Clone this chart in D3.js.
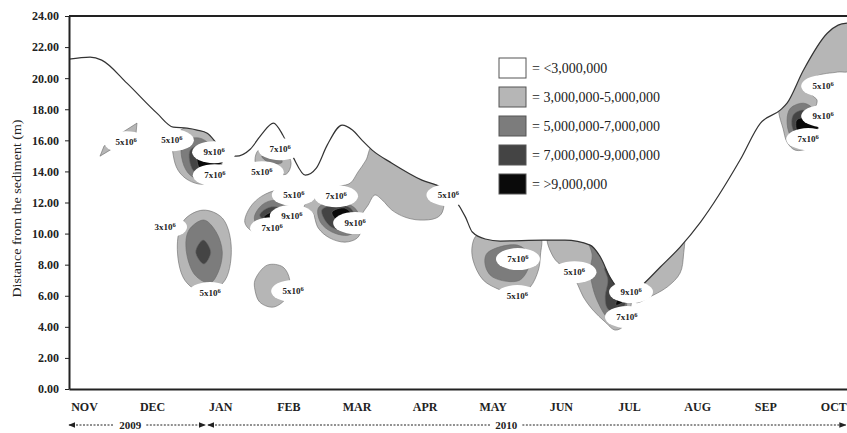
<!DOCTYPE html>
<html>
<head>
<meta charset="utf-8">
<script src="https://cdnjs.cloudflare.com/ajax/libs/d3/7.8.5/d3.min.js"></script>
<style>
body{margin:0;background:#fff;}
#canvas{width:847px;height:433px;}
text{font-family:'Liberation Serif','DejaVu Serif',serif;fill:#222;}
.axis text{font-weight:bold;font-size:12px;}
.axis path,.axis line{stroke:#222;}
.lab text{font-weight:bold;font-size:9px;}
</style>
</head>
<body>
<div id="canvas" class="canvas"></div>
<script>
//data: x = month index (0 = NOV 2009), y = distance from sediment (m)
var months = ['NOV','DEC','JAN','FEB','MAR','APR','MAY','JUN','JUL','AUG','SEP','OCT'];
var yTicks = [0,2,4,6,8,10,12,14,16,18,20,22,24];
var legendLabels = ['= <3,000,000','= 3,000,000-5,000,000','= 5,000,000-7,000,000','= 7,000,000-9,000,000','= >9,000,000'];
var levelColors = ['#ffffff','#b6b6b6','#7c7c7c','#444444','#0a0a0a'];

//water surface line
var surface = [[-0.22,21.22],[0.09,21.35],[0.26,21.16],[0.63,19.68],[1.07,17.75],[1.31,16.85],[1.51,16.78],[1.66,16.66],[1.81,16.46],[1.97,15.69],[2.12,15.05],[2.23,14.98],[2.44,15.43],[2.61,16.40],[2.78,17.11],[2.92,16.33],[3.07,14.92],[3.25,13.76],[3.41,14.21],[3.57,15.69],[3.79,16.98],[3.94,16.66],[4.08,16.01],[4.23,15.37],[4.52,14.53],[4.96,13.44],[5.26,12.93],[5.45,12.15],[5.60,11.06],[5.70,10.10],[5.89,9.65],[6.11,9.52],[6.74,9.58],[7.06,9.58],[7.43,9.26],[7.58,8.49],[7.72,7.20],[7.87,6.30],[7.99,5.98],[8.21,6.75],[8.46,7.85],[8.75,9.13],[9.05,10.74],[9.63,14.73],[9.93,17.11],[10.22,17.94],[10.32,18.39],[10.56,20.51],[10.91,22.89],[11.07,23.41],[11.2,23.54]];

//contour rings, lv 1 = 3-5M, 2 = 5-7M, 3 = 7-9M, 4 = >9M
var blobs = [
 {lv:1,lin:true,pts:[[0.235,14.98],[0.294,15.63],[0.499,16.33],[0.778,17.11],[0.764,16.46],[0.558,15.88],[0.382,15.37]]},
 {lv:1,pts:[[1.31,16.2],[1.60,17.0],[1.85,16.8],[1.97,16.0],[2.03,14.6],[1.92,13.63],[1.75,13.18],[1.53,13.44],[1.38,14.08],[1.31,15.05]]},
 {lv:2,pts:[[1.45,15.88],[1.70,16.14],[1.89,15.5],[1.97,14.41],[1.78,13.44],[1.56,13.76],[1.45,14.6]]},
 {lv:3,pts:[[1.56,15.37],[1.78,15.69],[1.92,14.86],[2.0,14.21],[1.78,13.7],[1.6,14.08]]},
 {lv:4,pts:[[1.67,15.05],[1.85,15.24],[2.03,14.6],[1.85,14.21],[1.70,14.21]]},
 {lv:1,pts:[[1.75,11.51],[2.03,11.0],[2.16,9.26],[2.07,7.0],[1.78,6.17],[1.48,7.0],[1.37,9.26],[1.47,10.87]]},
 {lv:2,pts:[[1.76,10.87],[1.94,10.1],[2.03,8.81],[1.97,7.52],[1.85,6.82],[1.63,7.33],[1.50,8.94],[1.54,10.22]]},
 {lv:3,pts:[[1.75,9.58],[1.86,8.81],[1.76,8.04],[1.64,8.81]]},
 {lv:1,pts:[[2.51,14.73],[2.56,15.37],[2.76,15.63],[2.97,15.18],[3.04,14.53],[2.97,13.83],[2.76,13.95],[2.56,14.08]]},
 {lv:2,pts:[[2.61,14.98],[2.80,15.11],[2.91,14.6],[2.76,14.47]]},
 {lv:1,pts:[[2.36,10.74],[2.44,11.70],[2.61,12.41],[2.85,12.80],[3.02,12.67],[3.10,11.83],[3.05,10.74],[2.88,10.10],[2.61,9.97],[2.44,10.23]]},
 {lv:2,pts:[[2.50,11.0],[2.61,11.83],[2.80,12.15],[3.0,11.83],[3.02,10.74],[2.80,10.35],[2.58,10.35]]},
 {lv:3,pts:[[2.58,11.19],[2.73,11.70],[2.95,11.51],[2.95,10.87],[2.70,10.74]]},
 {lv:4,pts:[[2.64,11.06],[2.76,11.38],[2.91,11.13],[2.76,10.87]]},
 {lv:1,pts:[[2.51,7.01],[2.69,7.97],[2.92,7.85],[3.02,7.01],[2.98,5.92],[2.78,5.27],[2.58,5.59],[2.51,6.37]]},
 {lv:1,pts:[[4.23,15.6],[4.52,14.9],[4.79,14.2],[4.96,13.8],[5.17,13.3],[5.28,12.4],[5.26,11.38],[5.17,11.0],[4.93,10.87],[4.71,11.06],[4.52,11.51],[4.38,12.15],[4.27,12.48],[4.17,11.83],[4.08,11.19],[4.08,10.35],[4.01,9.71],[3.83,9.45],[3.61,9.71],[3.44,10.35],[3.35,11.38],[3.23,11.64],[3.32,12.28],[3.54,12.80],[3.76,13.05],[3.91,13.25],[4.02,13.95],[4.14,14.73]]},
 {lv:2,pts:[[3.44,11.64],[3.61,12.03],[3.88,11.90],[4.02,11.38],[4.02,10.35],[3.88,9.90],[3.64,10.10],[3.47,10.74]]},
 {lv:3,pts:[[3.49,11.51],[3.69,11.83],[3.91,11.64],[3.98,10.87],[3.83,10.23],[3.61,10.48]]},
 {lv:4,pts:[[3.64,11.38],[3.83,11.64],[3.94,11.13],[3.88,10.48],[3.73,10.74]]},
 {lv:1,pts:[[5.77,9.9],[6.11,9.9],[6.40,9.9],[6.70,9.8],[6.70,8.62],[6.67,7.65],[6.55,6.56],[6.36,5.98],[6.11,6.37],[5.86,7.01],[5.71,8.30],[5.70,9.26]]},
 {lv:2,pts:[[5.92,8.75],[6.36,9.26],[6.55,8.49],[6.40,7.01],[6.0,7.20],[5.89,7.97]]},
 {lv:1,pts:[[6.81,9.84],[6.89,8.49],[7.03,7.85],[7.17,7.33],[7.25,6.69],[7.33,5.92],[7.47,5.08],[7.65,4.31],[7.80,3.79],[7.94,4.12],[8.02,5.08],[8.02,6.37],[7.87,7.01],[7.58,8.94],[7.43,9.71]]},
 {lv:2,pts:[[7.40,9.58],[7.46,8.62],[7.43,7.65],[7.47,6.50],[7.55,5.53],[7.68,4.57],[7.80,4.18],[7.94,4.76],[7.94,6.37],[7.75,7.65],[7.58,8.94]]},
 {lv:3,pts:[[7.64,7.78],[7.69,7.01],[7.65,5.92],[7.68,5.21],[7.80,4.89],[7.94,5.40],[7.94,6.37],[7.80,7.14]]},
 {lv:4,pts:[[7.75,7.01],[7.84,6.17],[7.81,5.40],[7.94,5.72],[7.94,6.37]]},
 {lv:1,pts:[[8.12,5.55],[8.27,5.85],[8.56,6.56],[8.75,7.46],[8.80,8.62],[8.80,9.8],[8.40,8.0],[8.12,6.9],[8.05,5.72]]},
 {lv:1,pts:[[10.2,18.5],[10.45,21],[10.85,24],[11.25,24.5],[11.25,20.51],[11.06,20.39],[10.76,20.13],[10.66,19.55],[10.69,18.91],[10.76,18.59],[10.73,18.07],[10.66,17.62],[10.73,16.98],[10.78,16.33],[10.63,15.50],[10.44,15.37],[10.32,15.88],[10.26,16.78],[10.20,17.75]]},
 {lv:2,pts:[[10.37,18.07],[10.56,18.39],[10.69,18.07],[10.69,17.43],[10.60,16.53],[10.51,16.01],[10.37,16.33],[10.32,17.30]]},
 {lv:3,pts:[[10.41,17.62],[10.56,17.94],[10.66,17.43],[10.63,16.66],[10.48,16.33],[10.40,16.78]]},
 {lv:4,pts:[[10.46,17.30],[10.59,17.43],[10.78,16.78],[10.63,16.66],[10.48,16.53]]}
];

//contour labels: month index, depth, mantissa
var labels = [[0.62,15.88,'5'],[1.29,16.01,'5'],[1.91,15.24,'9'],[1.92,13.76,'7'],[1.19,10.42,'3'],[1.85,6.17,'5'],
 [2.88,15.43,'7'],[2.61,13.95,'5'],[3.08,12.48,'5'],[3.05,11.13,'9'],[2.76,10.35,'7'],[3.07,6.30,'5'],
 [3.70,12.41,'7'],[3.98,10.68,'9'],[5.35,12.48,'5'],[6.37,8.36,'7'],[6.36,5.98,'5'],[7.20,7.52,'5'],
 [8.03,6.24,'9'],[7.97,4.63,'7'],[10.85,19.49,'5'],[10.85,17.56,'9'],[10.63,16.08,'7']];

var m = {t:16,r:0,b:44,l:69};
var outerWidth = 847, outerHeight = 433;
var w = outerWidth - m.l - m.r,
    h = outerHeight - m.t - m.b;

var svg = d3.select('.canvas')
    .append('svg')
    .attr('width',outerWidth)
    .attr('height',outerHeight);
var plot = svg.append('g')
    .attr('transform','translate(' + m.l + ',' + m.t + ')');

var scaleX = d3.scaleLinear().domain([-0.22,11.2]).range([0,w]),
    scaleY = d3.scaleLinear().domain([0,24]).range([h,0]);

//clip everything below the surface line
var area = d3.area()
    .x(function(d){return scaleX(d[0])})
    .y0(h)
    .y1(function(d){return scaleY(d[1])})
    .curve(d3.curveMonotoneX);
plot.append('clipPath').attr('id','below')
    .append('path').datum(surface).attr('d',area);

var ring = d3.line()
    .x(function(d){return scaleX(d[0])})
    .y(function(d){return scaleY(d[1])});

plot.append('g').attr('clip-path','url(#below)')
    .selectAll('path')
    .data(blobs)
    .enter().append('path')
    .attr('d',function(d){
        return ring.curve(d.lin ? d3.curveLinearClosed : d3.curveCatmullRomClosed.alpha(0.5))(d.pts);
    })
    .attr('fill',function(d){return levelColors[d.lv]})
    .attr('stroke','#6a6a6a')
    .attr('stroke-width',0.6);

var line = d3.line()
    .x(function(d){return scaleX(d[0])})
    .y(function(d){return scaleY(d[1])})
    .curve(d3.curveMonotoneX);
plot.append('path').datum(surface)
    .attr('d',line)
    .attr('fill','none')
    .attr('stroke','#333')
    .attr('stroke-width',1.2);

//labels: white ellipses cut into the contours
var lab = plot.selectAll('.lab')
    .data(labels)
    .enter().append('g')
    .attr('class','lab')
    .attr('transform',function(d){return 'translate(' + scaleX(d[0]) + ',' + scaleY(d[1]) + ')'});
lab.append('ellipse').attr('rx',22).attr('ry',11).attr('fill','#fff');
var lt = lab.append('text').attr('text-anchor','middle').attr('y',3);
lt.append('tspan').text(function(d){return d[2] + 'x10'});
lt.append('tspan').attr('dy',-3.5).attr('font-size',6.5).text('6');

//axes
var axisY = d3.axisLeft().scale(scaleY)
    .tickValues(yTicks)
    .tickFormat(d3.format('.2f'))
    .tickSize(4).tickSizeOuter(0).tickPadding(6);
var axisX = d3.axisBottom().scale(scaleX)
    .tickValues(d3.range(months.length))
    .tickFormat(function(i){return months[i]})
    .tickSize(0).tickPadding(13);

var axisNodeY = plot.append('g').attr('class','axis');
axisY(axisNodeY);
var axisNodeX = plot.append('g').attr('class','axis')
    .attr('transform','translate(0,' + h + ')');
axisX(axisNodeX);
axisNodeY.select('.domain').attr('stroke-width',2);
axisNodeX.select('.domain').attr('stroke-width',2);
axisNodeX.selectAll('text').attr('font-size',10);
plot.append('line')
    .attr('x1',0).attr('x2',w).attr('y1',0).attr('y2',0)
    .attr('stroke','#222').attr('stroke-width',2);

svg.append('text')
    .attr('transform','translate(21,' + (m.t + h/2 + 6) + ') rotate(-90)')
    .attr('text-anchor','middle')
    .attr('font-size',13)
    .attr('textLength',178)
    .attr('lengthAdjust','spacingAndGlyphs')
    .text('Distance from the sediment (m)');

//year arrows
var years = [{t:'2009',a:-0.22,b:1.78,c:0.68},{t:'2010',a:1.82,b:11.18,c:6.2}];
var defs = svg.append('defs');
defs.append('marker').attr('id','arr').attr('viewBox','0 0 10 10')
    .attr('refX',9).attr('refY',5).attr('markerWidth',7).attr('markerHeight',7)
    .attr('orient','auto-start-reverse')
    .append('path').attr('d','M0,1L10,5L0,9Z').attr('fill','#222');
var yr = svg.append('g').attr('transform','translate(' + m.l + ',425)');
years.forEach(function(d){
    yr.append('line')
        .attr('x1',scaleX(d.a)).attr('x2',scaleX(d.c) - 16)
        .attr('stroke','#222').attr('stroke-dasharray','2,1.5')
        .attr('marker-start','url(#arr)');
    yr.append('line')
        .attr('x1',scaleX(d.c) + 16).attr('x2',scaleX(d.b))
        .attr('stroke','#222').attr('stroke-dasharray','2,1.5')
        .attr('marker-end','url(#arr)');
    yr.append('text').attr('x',scaleX(d.c)).attr('y',4)
        .attr('text-anchor','middle').attr('font-size',11).attr('font-weight','bold')
        .text(d.t);
});

//legend
var legend = svg.append('g').attr('transform','translate(499,58)');
var item = legend.selectAll('g')
    .data(legendLabels)
    .enter().append('g')
    .attr('transform',function(d,i){return 'translate(0,' + (i*29) + ')'});
item.append('rect')
    .attr('width',27).attr('height',20)
    .attr('fill',function(d,i){return levelColors[i]})
    .attr('stroke','#555').attr('stroke-width',1);
item.append('text')
    .attr('x',33).attr('y',15)
    .attr('font-size',14)
    .text(function(d){return d});
</script>
</body>
</html>
